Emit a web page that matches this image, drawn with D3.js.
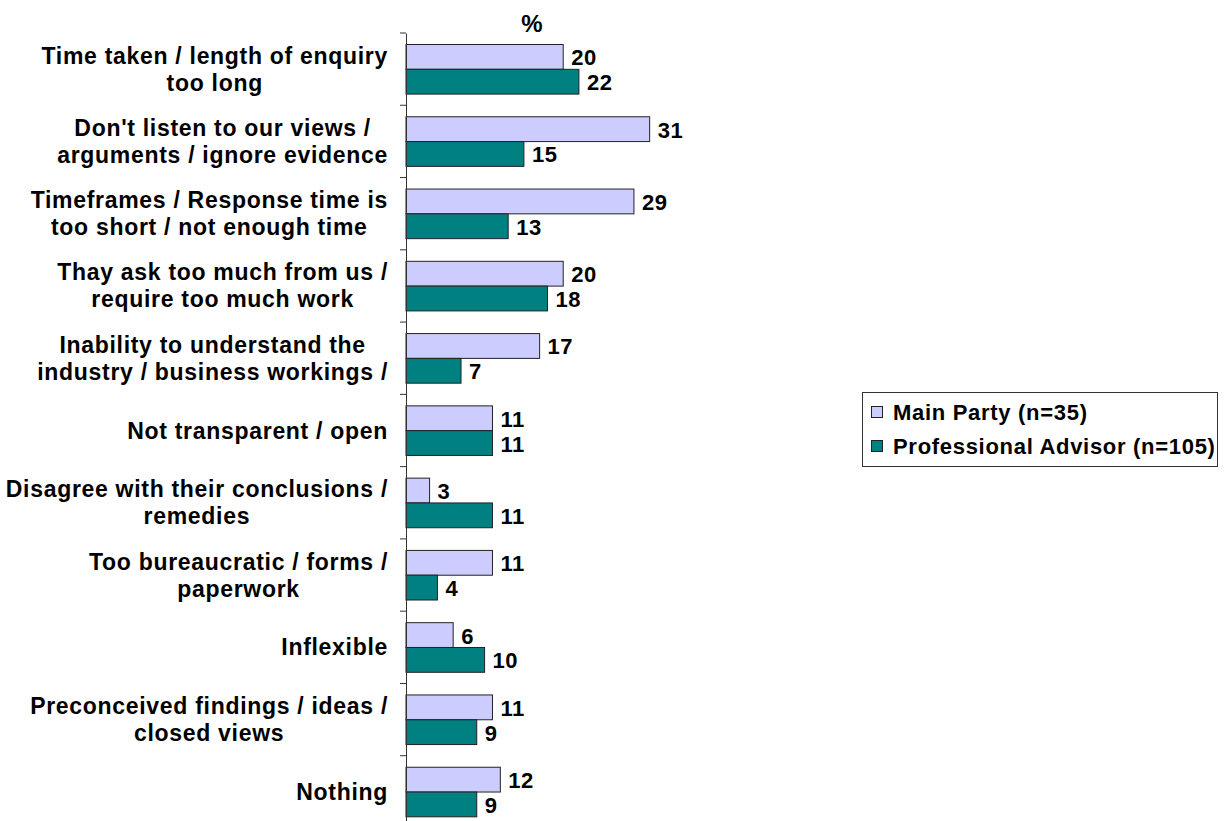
<!DOCTYPE html>
<html lang="en">
<head>
    <meta charset="UTF-8">
    <title>Criticisms chart</title>
    <style>
        body {
            margin: 0;
            background-color: white;
            font-family: "Liberation Sans", Arial, sans-serif;
        }
        text {
            font-family: "Liberation Sans", Arial, sans-serif;
            font-weight: bold;
            fill: black;
        }
    </style>
    <script src="https://d3js.org/d3.v7.min.js"></script>
</head>
<body>
    <div id="chart"></div>
    <script>
        // category labels, one array of lines per category
        const categories = [
            ["Time taken / length of enquiry", "too long"],
            ["Don't listen to our views /", "arguments / ignore evidence"],
            ["Timeframes / Response time is", "too short / not enough time"],
            ["Thay ask too much from us /", "require too much work"],
            ["Inability to understand the", "industry / business workings /"],
            ["Not transparent / open"],
            ["Disagree with their conclusions /", "remedies"],
            ["Too bureaucratic / forms /", "paperwork"],
            ["Inflexible"],
            ["Preconceived findings / ideas /", "closed views"],
            ["Nothing"]
        ];
        const mainParty = [20, 31, 29, 20, 17, 11, 3, 11, 6, 11, 12];
        const profAdvisor = [22, 15, 13, 18, 7, 11, 11, 4, 10, 9, 9];
        const seriesNames = ["Main Party (n=35)", "Professional Advisor (n=105)"];
        const seriesColors = ["#CCCCFF", "#008080"];

        const width = 1230, height = 821;
        const axisX = 406;

        const svg = d3.select("#chart").append("svg")
            .attr("width", width)
            .attr("height", height);

        const y = d3.scaleBand()
            .domain(d3.range(categories.length))
            .range([33, 828])
            .paddingInner(0)
            .paddingOuter(0);

        // bars take ~50px of each ~72px band
        const y1 = d3.scaleBand()
            .domain([0, 1])
            .range([11.5, 11.5 + 49.6]);

        const x = d3.scaleLinear()
            .domain([0, 40])
            .range([axisX, axisX + 40 * 7.86]);

        // percent title
        svg.append("text")
            .attr("x", 532)
            .attr("y", 23)
            .attr("text-anchor", "middle")
            .attr("dominant-baseline", "central")
            .style("font-size", "24px")
            .text("%");

        // bars
        const groups = svg.append("g")
            .selectAll("g")
            .data(categories.map((c, i) => ({ i, vals: [mainParty[i], profAdvisor[i]] })))
            .enter().append("g")
            .attr("transform", d => `translate(0,${y(d.i)})`);

        groups.selectAll("rect")
            .data(d => d.vals.map((v, s) => ({ v, s })))
            .enter().append("rect")
            .attr("x", x(0))
            .attr("y", d => y1(d.s))
            .attr("width", d => x(d.v) - x(0))
            .attr("height", y1.bandwidth())
            .attr("fill", d => seriesColors[d.s])
            .attr("stroke", "#222")
            .attr("stroke-width", 1);

        groups.selectAll("text.val")
            .data(d => d.vals.map((v, s) => ({ v, s })))
            .enter().append("text")
            .attr("class", "val")
            .attr("x", d => x(d.v) + 8)
            .attr("y", d => y1(d.s) + y1.bandwidth() / 2 + 1)
            .attr("dominant-baseline", "central")
            .style("font-size", "22px")
            .style("letter-spacing", "0.5px")
            .text(d => d.v);

        // axis
        const axis = d3.axisLeft(y)
            .tickSize(6)
            .tickSizeOuter(0)
            .tickFormat("");
        const axisG = svg.append("g")
            .attr("transform", `translate(${axisX},0)`)
            .call(axis);
        // ticks sit on band boundaries, not centres
        axisG.selectAll(".tick")
            .attr("transform", d => `translate(0,${y(d)})`);
        axisG.select(".domain").attr("stroke", "#333");
        axisG.selectAll(".tick line").attr("stroke", "#333");

        // category labels: lines centred in a block, block right aligned
        const labelRight = 388;
        const lineH = 27;
        categories.forEach((lines, i) => {
            const cy = y(i) + y.bandwidth() / 2;
            const g = svg.append("g");
            const texts = lines.map((ln, k) => g.append("text")
                .attr("y", cy + (k - (lines.length - 1) / 2) * lineH)
                .attr("dominant-baseline", "central")
                .attr("text-anchor", "middle")
                .style("font-size", "23px")
                .style("letter-spacing", "0.7px")
                .text(ln));
            const w = d3.max(texts, t => t.node().getComputedTextLength());
            texts.forEach(t => t.attr("x", labelRight - w / 2));
        });

        // legend
        const legend = svg.append("g");
        legend.append("rect")
            .attr("x", 862.5).attr("y", 392.5)
            .attr("width", 355).attr("height", 74)
            .attr("fill", "white")
            .attr("stroke", "#333");
        seriesNames.forEach((name, s) => {
            legend.append("rect")
                .attr("x", 871.5).attr("y", 406.5 + s * 34)
                .attr("width", 11).attr("height", 11)
                .attr("fill", seriesColors[s])
                .attr("stroke", "#222");
            legend.append("text")
                .attr("x", 893)
                .attr("y", 412 + s * 34)
                .attr("dominant-baseline", "central")
                .style("font-size", "22px")
                .style("letter-spacing", "0.7px")
                .text(name);
        });
    </script>
</body>
</html>
